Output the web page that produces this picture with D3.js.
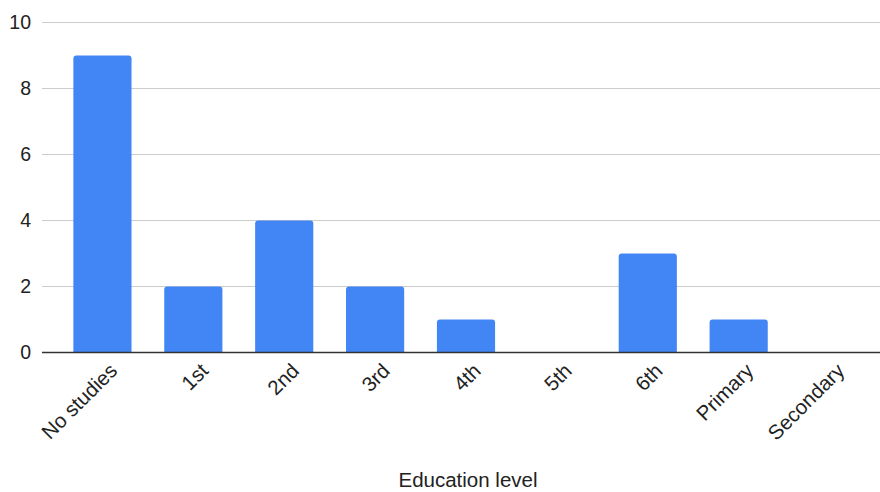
<!DOCTYPE html>
<html>
<head>
<meta charset="utf-8">
<script src="https://cdn.jsdelivr.net/npm/d3@7"></script>
<style>
  body { margin: 0; background: #fff; }
  text { font-family: "Liberation Sans", Arial, sans-serif; fill: #222; }
</style>
</head>
<body>
<div id="chart"></div>
<script>
// chart data
var categories = ['No studies', '1st', '2nd', '3rd', '4th', '5th', '6th', 'Primary', 'Secondary'];
var counts = [9, 2, 4, 2, 1, 0, 3, 1, 0];
var yTicks = [0, 2, 4, 6, 8, 10];
var xTitle = 'Education level';

var svgWidth = 880;
var svgHeight = 492;

var svg = d3.select('#chart')
  .append('svg')
  .attr('width', svgWidth)
  .attr('height', svgHeight);

var xScale = d3.scaleBand()
  .domain(categories)
  .range([57, 875])
  .paddingInner(0.36)
  .paddingOuter(0.18);

var yScale = d3.scaleLinear()
  .domain([0, 10])
  .range([352.5, 22.5]);

// gridlines
svg.append('g')
  .selectAll('line')
  .data(yTicks.filter(d => d > 0))
  .enter()
  .append('line')
  .attr('x1', 42)
  .attr('x2', 880)
  .attr('y1', d => yScale(d))
  .attr('y2', d => yScale(d))
  .attr('stroke', '#cccccc')
  .attr('stroke-width', 1);

// y labels
svg.append('g')
  .selectAll('text')
  .data(yTicks)
  .enter()
  .append('text')
  .attr('x', 31)
  .attr('y', d => yScale(d))
  .attr('dy', '0.35em')
  .attr('text-anchor', 'end')
  .attr('font-size', 19.5)
  .text(d => d);

// bars with rounded tops
var r = 3;
svg.append('g')
  .selectAll('path')
  .data(categories.map((c, i) => ({cat: c, v: counts[i]})).filter(d => d.v > 0))
  .enter()
  .append('path')
  .attr('fill', '#4285f4')
  .attr('d', function(d) {
    var x0 = xScale(d.cat), x1 = x0 + xScale.bandwidth();
    var y0 = yScale(0), y1 = yScale(d.v);
    return 'M' + x0 + ',' + y0 +
      'V' + (y1 + r) +
      'Q' + x0 + ',' + y1 + ' ' + (x0 + r) + ',' + y1 +
      'H' + (x1 - r) +
      'Q' + x1 + ',' + y1 + ' ' + x1 + ',' + (y1 + r) +
      'V' + y0 + 'Z';
  });

// baseline
svg.append('line')
  .attr('x1', 42)
  .attr('x2', 880)
  .attr('y1', yScale(0))
  .attr('y2', yScale(0))
  .attr('stroke', '#333333')
  .attr('stroke-width', 1.3);

// x labels, rotated
svg.append('g')
  .selectAll('text')
  .data(categories)
  .enter()
  .append('text')
  .attr('transform', d => 'translate(' + (xScale(d) + xScale.bandwidth() / 2 + 11) + ',367) rotate(-45)')
  .attr('text-anchor', 'end')
  .attr('dy', '0.35em')
  .attr('font-size', 20.5)
  .text(d => d);

// axis title
svg.append('text')
  .attr('x', 468)
  .attr('y', 487)
  .attr('text-anchor', 'middle')
  .attr('font-size', 20.5)
  .text(xTitle);
</script>
</body>
</html>
